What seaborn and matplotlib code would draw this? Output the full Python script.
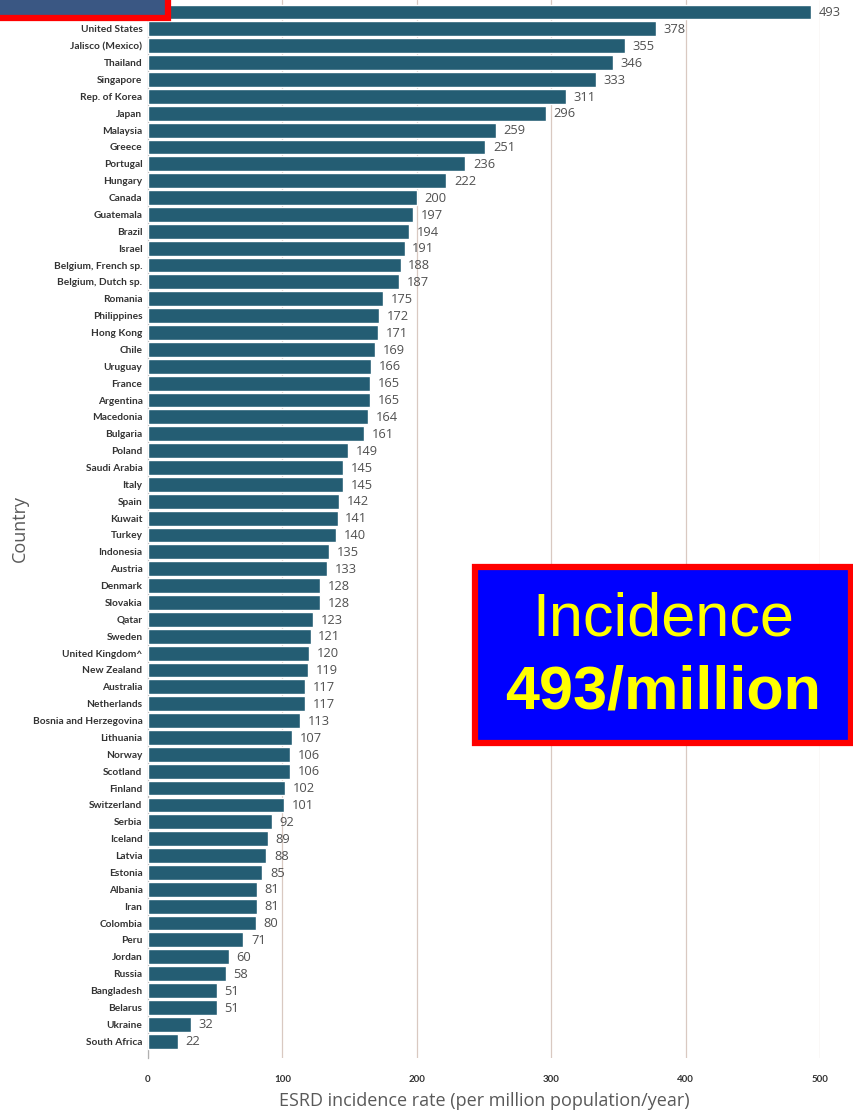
import matplotlib
matplotlib.use("Agg")
import matplotlib.pyplot as plt
from matplotlib.patches import Rectangle
import pandas as pd
import seaborn as sns

countries = [
    "Taiwan", "United States", "Jalisco (Mexico)", "Thailand", "Singapore",
    "Rep. of Korea", "Japan", "Malaysia", "Greece", "Portugal", "Hungary",
    "Canada", "Guatemala", "Brazil", "Israel", "Belgium, French sp.",
    "Belgium, Dutch sp.", "Romania", "Philippines", "Hong Kong", "Chile",
    "Uruguay", "France", "Argentina", "Macedonia", "Bulgaria", "Poland",
    "Saudi Arabia", "Italy", "Spain", "Kuwait", "Turkey", "Indonesia",
    "Austria", "Denmark", "Slovakia", "Qatar", "Sweden", "United Kingdom^",
    "New Zealand", "Australia", "Netherlands", "Bosnia and Herzegovina",
    "Lithuania", "Norway", "Scotland", "Finland", "Switzerland", "Serbia",
    "Iceland", "Latvia", "Estonia", "Albania", "Iran", "Colombia", "Peru",
    "Jordan", "Russia", "Bangladesh", "Belarus", "Ukraine", "South Africa",
]
incidence = [
    493, 378, 355, 346, 333, 311, 296, 259, 251, 236, 222,
    200, 197, 194, 191, 188, 187, 175, 172, 171, 169,
    166, 165, 165, 164, 161, 149, 145, 145, 142, 141, 140, 135,
    133, 128, 128, 123, 121, 120, 119, 117, 117, 113,
    107, 106, 106, 102, 101, 92, 89, 88, 85, 81, 81, 80, 71,
    60, 58, 51, 51, 32, 22,
]
x_ticks = [0, 100, 200, 300, 400, 500]
callout_lines = ["Incidence", "493/million"]

df = pd.DataFrame({"Country": countries, "rate": incidence})

sns.set_style("white")
plt.rcParams["font.family"] = ["Lato", "DejaVu Sans"]

W, H = 854, 1113
fig = plt.figure(figsize=(W / 100, H / 100), dpi=100)
ax = fig.add_axes([148 / W, 1 - 1058 / H, (820 - 148) / W, 1058 / H])

bar_color = "#245d73"
sns.barplot(data=df, y="Country", x="rate", orient="h", color=bar_color,
            width=0.88, saturation=1, ax=ax, zorder=3)

ax.set_xlim(0, 500)
ax.set_ylim(62.0, -0.71)
ax.set_xticks(x_ticks)
ax.set_xticklabels([str(t) for t in x_ticks], fontsize=7, fontweight="bold",
                   color="#333333")
ax.tick_params(axis="x", length=0, pad=12)
ax.tick_params(axis="y", length=0, pad=4)
for lbl in ax.get_yticklabels():
    lbl.set_fontsize(7.3)
    lbl.set_fontweight("bold")
    lbl.set_color("#333333")

ax.grid(axis="x", color="#d9c9c1", lw=0.9, zorder=0)
ax.grid(axis="y", visible=False)
for side in ["top", "right", "bottom"]:
    ax.spines[side].set_visible(False)
ax.spines["left"].set_color("#b0b0b0")
ax.spines["left"].set_linewidth(0.9)

label_font = ["Open Sans", "DejaVu Sans"]
ax.set_xlabel("ESRD incidence rate (per million population/year)",
              fontsize=13, color="#595959", family=label_font, labelpad=6)
ax.set_ylabel("Country", fontsize=13, color="#595959", family=label_font)
ax.yaxis.set_label_coords(-0.178, 0.5)

# value labels at the end of each bar
for i, v in enumerate(incidence):
    ax.annotate(str(v), xy=(v, i), xytext=(5.5, -0.5), textcoords="offset points",
                ha="left", va="center", fontsize=9.3, color="#505050",
                family=label_font, clip_on=False, zorder=4)

# callout box
fig.patches.append(Rectangle((475 / W, 1 - 743 / H), (851 - 475) / W,
                             (743 - 567) / H, transform=fig.transFigure,
                             facecolor="#0000ff", edgecolor="#ff0000",
                             lw=4.5, zorder=10))
fig.text(663 / W, 1 - 620 / H, callout_lines[0], ha="center", va="center",
         fontsize=44, color="#ffff00", family=["Liberation Sans"], zorder=11)
fig.text(663 / W, 1 - 693 / H, callout_lines[1], ha="center", va="center",
         fontsize=44, color="#ffff00", fontweight="bold",
         family=["Liberation Sans"], zorder=11)

# header tab in the top-left corner
fig.patches.append(Rectangle((-4 / W, 1 - 18 / H), 172 / W, 30 / H,
                             transform=fig.transFigure, facecolor="#3a5783",
                             edgecolor="#ff0000", lw=4.5, zorder=10))

fig.savefig("out.png", dpi=100)
